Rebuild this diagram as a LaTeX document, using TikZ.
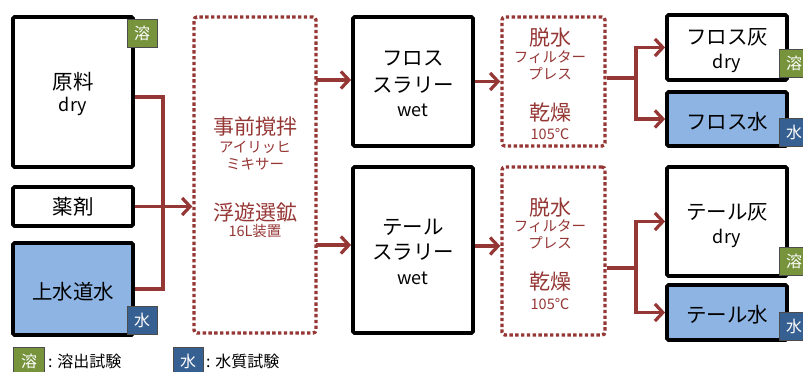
\documentclass[tikz,border=0pt]{standalone}
\usepackage{fontspec}
\setmainfont{Noto Sans CJK JP}
\usetikzlibrary{arrows.meta,calc}
\definecolor{dred}{HTML}{953735}
\definecolor{lblue}{HTML}{8DB4E2}
\definecolor{bblue}{HTML}{376092}
\definecolor{bgreen}{HTML}{77933C}
\tikzset{
 blackbox/.style={draw=black, line width=3.8pt, rounded corners=1.5pt, inner sep=0pt, fill=white},
 waterbox/.style={blackbox, fill=lblue},
 dotbox/.style={draw=dred, line width=3.4pt, dash pattern=on 3.4pt off 2.4pt, rounded corners=3pt, inner sep=0pt},
 big/.style={font=\fontsize{20.5}{22}\selectfont, text=black, inner sep=0pt},
 lat/.style={font=\fontsize{18}{20}\selectfont, text=black, inner sep=0pt},
 redbig/.style={font=\fontsize{21}{22}\selectfont, text=dred, inner sep=0pt},
 redsmall/.style={font=\fontsize{14.5}{15}\selectfont, text=dred, inner sep=0pt},
 badgeY/.style={fill=bgreen, draw=black!70, line width=0.8pt, text=white, font=\fontsize{16}{16}\selectfont, minimum width=30pt, minimum height=28pt, inner sep=0pt},
 badgeW/.style={badgeY, fill=bblue},
 legtext/.style={font=\fontsize{16}{17}\selectfont, text=black, inner sep=0pt, anchor=west},
 flow/.style={draw=dred, line width=3.2pt},
 arr/.style={flow, -{Straight Barb[length=8pt,width=17pt]}}
}
\begin{document}
\begin{tikzpicture}[x=1pt,y=-1pt]
\useasboundingbox[fill=white] (0,0) rectangle (803,372);

% left column
\node[blackbox, minimum width=120pt, minimum height=150pt] (genryo) at (73,92) {};
\node[big] (genryoA) at (73,82) {原料};
\node[lat] (genryoB) at (73,106) {dry};
\node[badgeY] (bgenryo) at (142,33) {溶};

\node[blackbox, minimum width=120pt, minimum height=39pt] (yakuzai) at (73,206.5) {};
\node[big] (yakuzaiT) at (73,207) {薬剤};

\node[waterbox, minimum width=120pt, minimum height=92pt] (josui) at (73,289) {};
\node[big] (josuiT) at (73,292) {上水道水};
\node[badgeW] (bjosui) at (142,320) {水};

% mixer / flotation
\node[dotbox, minimum width=122pt, minimum height=316pt] (mix) at (255,175) {};
\node[redbig] (mixA) at (255,127) {事前撹拌};
\node[redsmall] (mixB) at (255,147) {アイリッヒ};
\node[redsmall] (mixC) at (255,164) {ミキサー};
\node[redbig] (mixD) at (255,212) {浮遊選鉱};
\node[redsmall] (mixE) at (255,231) {16L装置};

% slurries
\node[blackbox, minimum width=120pt, minimum height=129pt] (fslurry) at (413,81.5) {};
\node[big] (fslA) at (413,59) {フロス};
\node[big] (fslB) at (413,85) {スラリー};
\node[lat] (fslC) at (413,110) {wet};

\node[blackbox, minimum width=120pt, minimum height=166pt] (tslurry) at (413,250) {};
\node[big] (tslA) at (413,227) {テール};
\node[big] (tslB) at (413,252) {スラリー};
\node[lat] (tslC) at (413,278) {wet};

% dewatering / drying
\node[dotbox, minimum width=103pt, minimum height=129pt] (dw1) at (553.5,81.5) {};
\node[redbig] (dw1A) at (550,38) {脱水};
\node[redsmall] (dw1B) at (550,57) {フィルター};
\node[redsmall] (dw1C) at (550,74) {プレス};
\node[redbig] (dw1D) at (550,113) {乾燥};
\node[redsmall] (dw1E) at (550,134) {105℃};

\node[dotbox, minimum width=103pt, minimum height=168pt] (dw2) at (553.5,251) {};
\node[redbig] (dw2A) at (550,208) {脱水};
\node[redsmall] (dw2B) at (550,226) {フィルター};
\node[redsmall] (dw2C) at (550,243) {プレス};
\node[redbig] (dw2D) at (550,282) {乾燥};
\node[redsmall] (dw2E) at (550,304) {105℃};

% products
\node[blackbox, minimum width=120pt, minimum height=65pt] (fash) at (727,47.5) {};
\node[big] (fashA) at (727,37) {フロス灰};
\node[lat] (fashB) at (727,63) {dry};
\node[badgeY] (bfash) at (794,63) {溶};

\node[waterbox, minimum width=120pt, minimum height=54pt] (fwat) at (727,119) {};
\node[big] (fwatT) at (727,122) {フロス水};
\node[badgeW] (bfwat) at (794,132) {水};

\node[blackbox, minimum width=120pt, minimum height=109pt] (tash) at (727,221.5) {};
\node[big] (tashA) at (727,212) {テール灰};
\node[lat] (tashB) at (727,238) {dry};
\node[badgeY] (btash) at (794,261) {溶};

\node[waterbox, minimum width=120pt, minimum height=55pt] (twat) at (727,312.5) {};
\node[big] (twatT) at (727,315) {テール水};
\node[badgeW] (btwat) at (794,326) {水};

% legend
\node[badgeY, minimum width=31pt] (lg1) at (29,361) {溶};
\node[legtext] (lg1T) at (48,361) {: 溶出試験};
\node[badgeW] (lg2) at (188,361) {水};
\node[legtext] (lg2T) at (206,361) {: 水質試験};

% connectors
\coordinate (j1) at (163,207);
\draw[flow] ([yshift=-5pt]genryo.east) -| (j1);
\draw[flow] (josui.east) -| (j1);
\draw[arr] (yakuzai.east) -- (yakuzai.east -| mix.west);

\coordinate (m1) at (316,80);
\coordinate (m2) at (316,245);
\draw[arr] (m1) -- (m1 -| fslurry.west);
\draw[arr] (m2) -- (m2 -| tslurry.west);
\draw[arr] (fslurry.east) -- (dw1.west);
\draw[arr] (tslurry.east |- 0,246) -- (dw2.west |- 0,246);

\coordinate (f1) at (636,78);
\draw[flow] (dw1.east |- f1) -- (f1);
\draw[arr] (f1) |- (fash.west);
\draw[arr] (f1) |- (fwat.west);

\coordinate (f2) at (636,268);
\draw[flow] (dw2.east |- f2) -- (f2);
\draw[arr] (f2) |- (tash.west);
\draw[arr] (f2) |- (twat.west);
\end{tikzpicture}
\end{document}
